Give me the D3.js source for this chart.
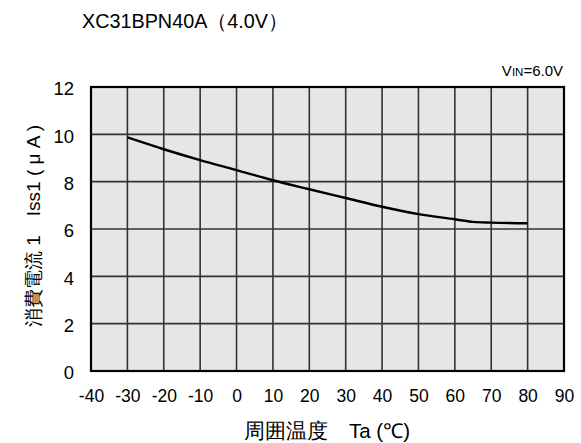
<!DOCTYPE html>
<html>
<head>
<meta charset="utf-8">
<script src="https://cdn.jsdelivr.net/npm/d3@7"></script>
<style>
  body { margin: 0; background: #fff; }
  text { font-family: "Liberation Sans", Arial, sans-serif; fill: #000; }
</style>
</head>
<body>
<div class="chart"></div>
<script>
// data
var temps = [-30, -20, -10, 0, 10, 20, 30, 40, 50, 60, 65, 70, 80];
var current = [9.87, 9.37, 8.91, 8.49, 8.06, 7.68, 7.31, 6.94, 6.63, 6.41, 6.30, 6.27, 6.24];
var xTicks = [-40, -30, -20, -10, 0, 10, 20, 30, 40, 50, 60, 70, 80, 90];
var yTicks = [0, 2, 4, 6, 8, 10, 12];

var width = 581;
var height = 443;
var svg = d3.select(".chart").append("svg")
  .attr("width", width)
  .attr("height", height);

var x = d3.scaleLinear().domain([-40, 90]).range([91, 564]);
var y = d3.scaleLinear().domain([0, 12]).range([371, 87]);

// plot background
svg.append("rect")
  .attr("x", x(-40)).attr("y", y(12))
  .attr("width", x(90) - x(-40)).attr("height", y(0) - y(12))
  .attr("fill", "#e6e6e6");

// grid
svg.append("g").selectAll("line")
  .data(xTicks.slice(1, -1))
  .enter().append("line")
  .attr("x1", d => x(d)).attr("x2", d => x(d))
  .attr("y1", y(12)).attr("y2", y(0))
  .attr("stroke", "#333").attr("stroke-width", 1.6);

svg.append("g").selectAll("line")
  .data(yTicks.slice(1, -1))
  .enter().append("line")
  .attr("y1", d => y(d)).attr("y2", d => y(d))
  .attr("x1", x(-40)).attr("x2", x(90))
  .attr("stroke", "#333").attr("stroke-width", 1.6);

// frame
svg.append("rect")
  .attr("x", x(-40)).attr("y", y(12))
  .attr("width", x(90) - x(-40)).attr("height", y(0) - y(12))
  .attr("fill", "none").attr("stroke", "#000").attr("stroke-width", 2.2);

// curve
var line = d3.line()
  .x((d, i) => x(temps[i]))
  .y(d => y(d))
  .curve(d3.curveMonotoneX);

svg.append("path")
  .datum(current)
  .attr("d", line)
  .attr("fill", "none")
  .attr("stroke", "#000")
  .attr("stroke-width", 2.4);

// axes (labels only)
var xAxis = svg.append("g")
  .attr("transform", "translate(0," + (y(0) + 16) + ")")
  .call(d3.axisBottom(x).tickValues(xTicks).tickSize(0).tickFormat(d => String(d)));
xAxis.select(".domain").remove();
xAxis.selectAll("text").attr("font-size", 17.5).attr("font-family", "Liberation Sans, Arial, sans-serif");

var yAxis = svg.append("g")
  .attr("transform", "translate(" + (x(-40) - 14) + ",0)")
  .call(d3.axisLeft(y).tickValues(yTicks).tickSize(0));
yAxis.select(".domain").remove();
yAxis.selectAll("text").attr("font-size", 18.5).attr("font-family", "Liberation Sans, Arial, sans-serif").attr("dy", "0.42em");

// titles
svg.append("text")
  .attr("x", 82).attr("y", 28)
  .attr("font-size", 19.8)
  .text("XC31BPN40A（4.0V）");

var vin = svg.append("text")
  .attr("x", 563).attr("y", 76)
  .attr("text-anchor", "end")
  .attr("font-size", 15);
vin.append("tspan").text("V");
vin.append("tspan").attr("font-size", 11.5).text("IN");
vin.append("tspan").text("=6.0V");

svg.append("text")
  .attr("x", 327).attr("y", 438)
  .attr("text-anchor", "middle")
  .attr("font-size", 20.5)
  .text("周囲温度　Ta (℃)");

svg.append("text")
  .attr("transform", "translate(40,226) rotate(-90)")
  .attr("text-anchor", "middle")
  .attr("font-size", 19)
  .text("消費電流 1　Iss1 ( μ A )");
</script>
</body>
</html>
